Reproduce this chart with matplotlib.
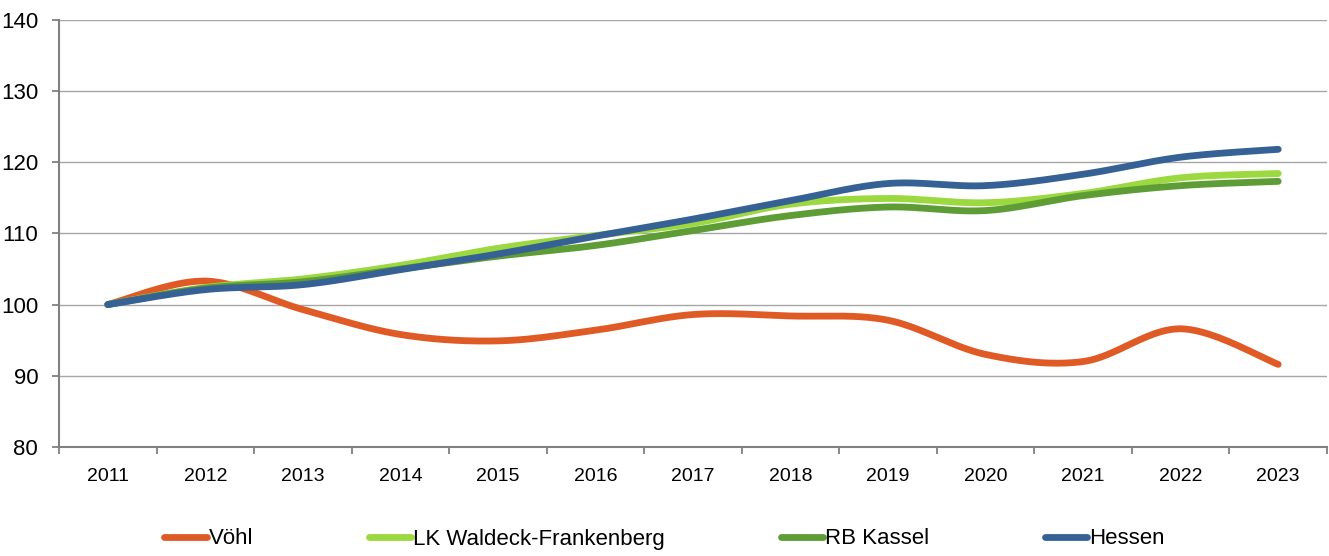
import numpy as np
import matplotlib
matplotlib.use('Agg')
from matplotlib import pyplot as plt
from matplotlib.ticker import FixedLocator, NullFormatter

# --- DATA ---
years = ['2011', '2012', '2013', '2014', '2015', '2016', '2017',
         '2018', '2019', '2020', '2021', '2022', '2023']
voehl = [100, 103.3, 99.3, 95.8, 94.9, 96.4, 98.6, 98.4, 97.8, 93.0, 92.0, 96.6, 91.6]
lk_waldeck = [100, 102.4, 103.6, 105.5, 107.9, 109.7, 111.4, 114.1, 114.9, 114.3, 115.6, 117.8, 118.4]
rb_kassel = [100, 102.3, 103.2, 105.0, 106.8, 108.3, 110.4, 112.5, 113.7, 113.2, 115.3, 116.7, 117.3]
hessen = [100, 102.1, 102.8, 104.9, 107.1, 109.6, 112.0, 114.6, 117.0, 116.7, 118.3, 120.7, 121.8]

series_names = ['Vöhl', 'LK Waldeck-Frankenberg', 'RB Kassel', 'Hessen']
series_vals = [voehl, lk_waldeck, rb_kassel, hessen]
colors = ['#E05A26', '#9CD83F', '#5E9C35', '#366194']

plt.rcParams['font.family'] = ['Liberation Sans', 'DejaVu Sans']


def smooth(xs, ys, n=40):
    # Excel-like smoothed line: cubic bezier with catmull-rom controls
    p = np.column_stack([xs, ys]).astype(float)
    pts = []
    for i in range(len(p) - 1):
        p0 = p[i - 1] if i > 0 else p[i]
        p1 = p[i]
        p2 = p[i + 1]
        p3 = p[i + 2] if i + 2 < len(p) else p[i + 1]
        c1 = p1 + (p2 - p0) / 6.0
        c2 = p2 - (p3 - p1) / 6.0
        t = np.linspace(0, 1, n)[:, None]
        seg = ((1 - t) ** 3) * p1 + 3 * ((1 - t) ** 2) * t * c1 + 3 * (1 - t) * t ** 2 * c2 + t ** 3 * p2
        pts.append(seg if i == 0 else seg[1:])
    pts = np.vstack(pts)
    return pts[:, 0], pts[:, 1]


fig = plt.figure(figsize=(13.29, 5.56), dpi=100)
ax = fig.add_axes([59 / 1329, 1 - 447 / 556, (1327 - 59) / 1329, (447 - 19.7) / 556])

x = np.arange(len(years))
for name, vals, col in zip(series_names, series_vals, colors):
    sx, sy = smooth(x, vals)
    ax.plot(sx, sy, color=col, lw=4.9, solid_capstyle='round', solid_joinstyle='round', label=name)

ax.set_xlim(-0.5, len(years) - 0.5)
ax.set_ylim(80, 140)
ax.set_yticks(np.arange(80, 141, 10))
ax.yaxis.grid(True, color='#A6A6A6', lw=1.0)
ax.set_axisbelow(True)

ax.set_xticks(x)
ax.set_xticklabels(years)
ax.xaxis.set_minor_locator(FixedLocator(np.arange(-0.5, len(years), 1.0)))
ax.xaxis.set_minor_formatter(NullFormatter())
ax.tick_params(axis='x', which='major', length=0, pad=15, labelsize=14)
ax.tick_params(axis='x', which='minor', length=5, width=1.3, color='#808080', direction='out')
ax.tick_params(axis='y', length=5, width=1.3, color='#808080', pad=10, labelsize=16)

for s in ['top', 'right']:
    ax.spines[s].set_visible(False)
for s in ['left', 'bottom']:
    ax.spines[s].set_color('#808080')
    ax.spines[s].set_linewidth(1.5)

fig.legend(loc='center', bbox_to_anchor=(0.5, 1 - 539 / 556), ncol=4, frameon=False,
           fontsize=16, handlelength=1.9, handletextpad=0.1, columnspacing=5.2)

fig.savefig('out.png', dpi=100)
